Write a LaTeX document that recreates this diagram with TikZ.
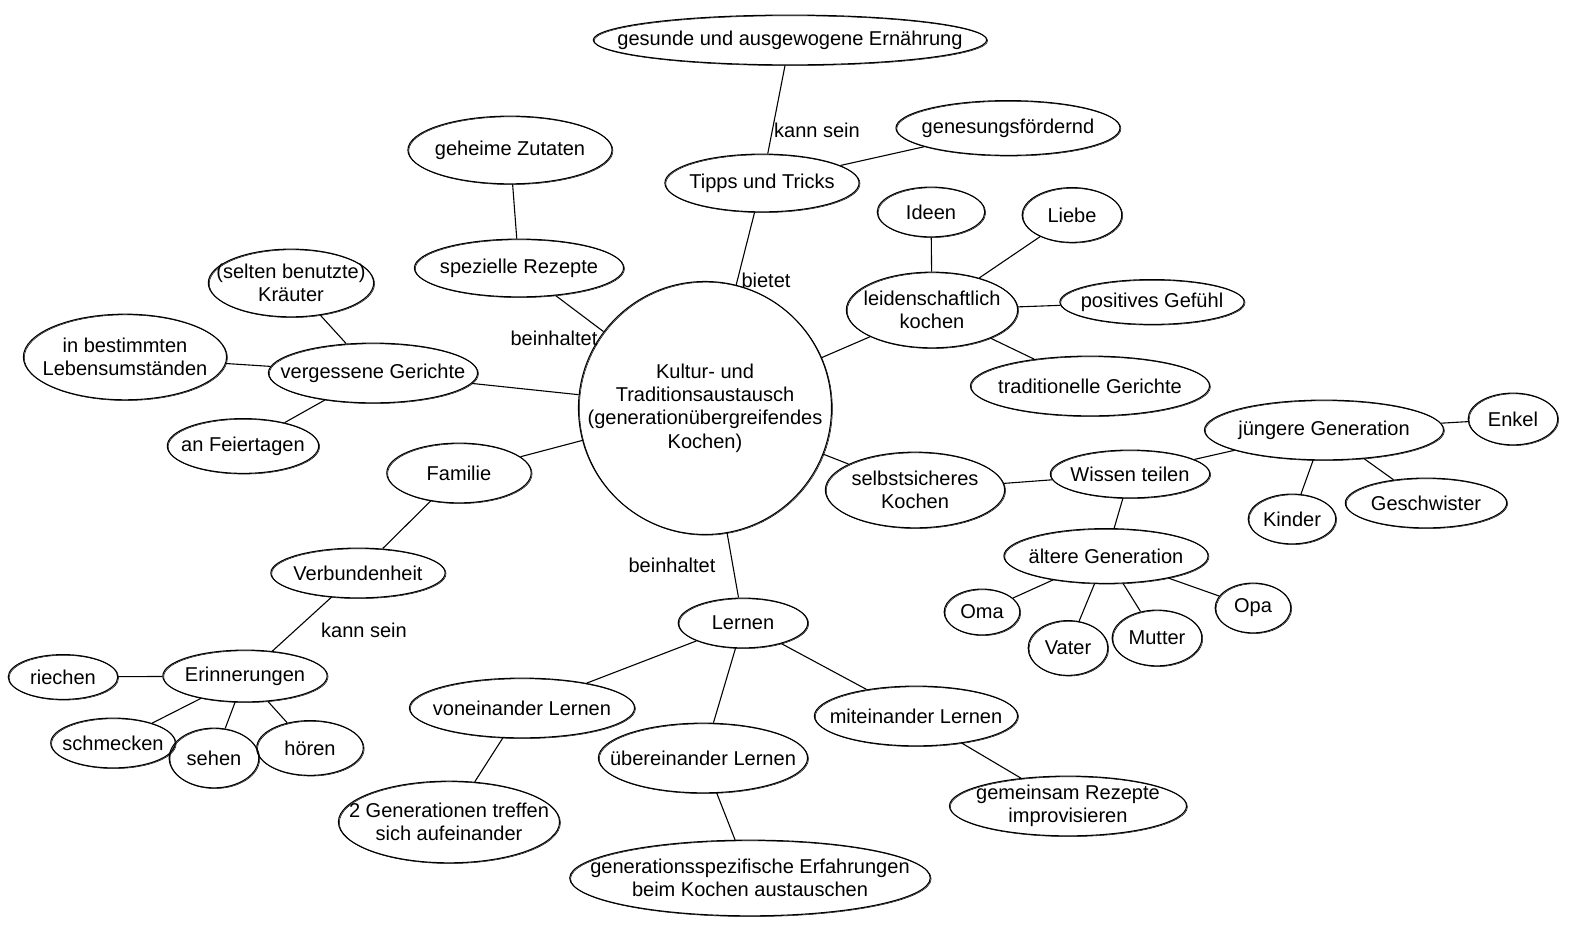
\documentclass[tikz,border=0pt]{standalone}
\usepackage{fontspec}
\setmainfont{Liberation Sans}
\usetikzlibrary{shapes.geometric}
\tikzset{
  bubble/.style={draw, ellipse, inner sep=0pt, line width=1.1pt,
    postaction={draw, line width=0.5pt, transform canvas={shift={(0.9pt,-0.7pt)}}}},
  txt/.style={label={[align=center, inner sep=0pt]center:#1}},
  edgelbl/.style={inner sep=1pt},
  link/.style={line width=1.1pt}
}
\begin{document}
\begin{tikzpicture}[x=1.004pt, y=-1.004pt, every label/.style={font=\fontsize{20.1}{23.5}\selectfont}, every node/.style={font=\fontsize{20.1}{23.5}\selectfont}]
  \useasboundingbox (0,0) rectangle (1574,928);
  % centre
  \node[bubble, circle, minimum size=254,
    txt={Kultur- und\\Traditionsaustausch\\(generationübergreifendes\\Kochen)}] (kultur) at (705,408) {};

  % top branch
  \node[bubble, minimum width=395, minimum height=50, txt={gesunde und ausgewogene Ernährung}] (gesund) at (790,40) {};
  \node[bubble, minimum width=195, minimum height=58, txt={Tipps und Tricks}] (tipps) at (762,183) {};
  \node[bubble, minimum width=225, minimum height=55, txt={genesungsfördernd}] (genesung) at (1008,128) {};
  \node[bubble, minimum width=205, minimum height=68, txt={geheime Zutaten}] (geheim) at (510,150) {};
  \node[bubble, minimum width=210, minimum height=58, txt={spezielle Rezepte}] (speziell) at (519,268) {};

  % right upper branch
  \node[bubble, minimum width=172, minimum height=76, txt={leidenschaftlich\\kochen}] (leiden) at (932,310) {};
  \node[bubble, minimum width=108, minimum height=50, txt={Ideen}] (ideen) at (931,212) {};
  \node[bubble, minimum width=100, minimum height=55, txt={Liebe}] (liebe) at (1072,215) {};
  \node[bubble, minimum width=185, minimum height=45, txt={positives Gefühl}] (gefuehl) at (1152,302) {};
  \node[bubble, minimum width=240, minimum height=60, txt={traditionelle Gerichte}] (tradi) at (1090,386) {};

  % left upper branch
  \node[bubble, minimum width=210, minimum height=60, txt={vergessene Gerichte}] (vergessen) at (373,373) {};
  \node[bubble, minimum width=166, minimum height=68, txt={(selten benutzte)\\Kräuter}] (kraeuter) at (291,283) {};
  \node[bubble, minimum width=204, minimum height=86, txt={in bestimmten\\Lebensumständen}] (umstand) at (125,357) {};
  \node[bubble, minimum width=152, minimum height=55, txt={an Feiertagen}] (feier) at (243,446) {};

  % left lower branch
  \node[bubble, minimum width=145, minimum height=60, txt={Familie}] (familie) at (459,473) {};
  \node[bubble, minimum width=175, minimum height=50, txt={Verbundenheit}] (verbund) at (358,573) {};
  \node[bubble, minimum width=165, minimum height=52, txt={Erinnerungen}] (erinner) at (245,676) {};
  \node[bubble, minimum width=110, minimum height=45, txt={riechen}] (riechen) at (63,677) {};
  \node[bubble, minimum width=125, minimum height=50, txt={schmecken}] (schmeck) at (113,743) {};
  \node[bubble, minimum width=90, minimum height=60, txt={sehen}] (sehen) at (214,758) {};
  \node[bubble, minimum width=107, minimum height=55, txt={hören}] (hoeren) at (310,748) {};

  % right lower branch
  \node[bubble, minimum width=180, minimum height=76, txt={selbstsicheres\\Kochen}] (selbst) at (915,490) {};
  \node[bubble, minimum width=160, minimum height=48, txt={Wissen teilen}] (wissen) at (1130,474) {};
  \node[bubble, minimum width=240, minimum height=60, txt={jüngere Generation}] (juenger) at (1324,430) {};
  \node[bubble, minimum width=90, minimum height=52, txt={Enkel}] (enkel) at (1513,419) {};
  \node[bubble, minimum width=88, minimum height=50, txt={Kinder}] (kinder) at (1292,519) {};
  \node[bubble, minimum width=162, minimum height=50, txt={Geschwister}] (geschw) at (1426,503) {};
  \node[bubble, minimum width=205, minimum height=55, txt={ältere Generation}] (aelter) at (1106,556) {};
  \node[bubble, minimum width=76, minimum height=46, txt={Oma}] (oma) at (982,612) {};
  \node[bubble, minimum width=80, minimum height=55, txt={Vater}] (vater) at (1068,648) {};
  \node[bubble, minimum width=90, minimum height=56, txt={Mutter}] (mutter) at (1157,638) {};
  \node[bubble, minimum width=76, minimum height=50, txt={Opa}] (opa) at (1253,608) {};

  % bottom branch
  \node[bubble, minimum width=130, minimum height=50, txt={Lernen}] (lernen) at (743,623) {};
  \node[bubble, minimum width=226, minimum height=60, txt={voneinander Lernen}] (von) at (522,708) {};
  \node[bubble, minimum width=210, minimum height=70, txt={übereinander Lernen}] (ueber) at (703,758) {};
  \node[bubble, minimum width=204, minimum height=60, txt={miteinander Lernen}] (mit) at (916,716) {};
  \node[bubble, minimum width=222, minimum height=82, txt={2 Generationen treffen\\sich aufeinander}] (treffen) at (449,822) {};
  \node[bubble, minimum width=362, minimum height=76, txt={generationsspezifische Erfahrungen\\beim Kochen austauschen}] (erfahr) at (750,878) {};
  \node[bubble, minimum width=238, minimum height=60, txt={gemeinsam Rezepte\\improvisieren}] (impro) at (1068,806) {};

  % edge labels
  \node[edgelbl] (lbl_kann1) at (817,130) {kann sein};
  \node[edgelbl] (lbl_bietet) at (766,280) {bietet};
  \node[edgelbl] (lbl_bein1) at (554,338) {beinhaltet};
  \node[edgelbl] (lbl_bein2) at (672,565) {beinhaltet};
  \node[edgelbl] (lbl_kann2) at (364,630) {kann sein};

  % connectors
  \draw[link] (gesund) -- (tipps);
  \draw[link] (tipps) -- (genesung);
  \draw[link] (tipps) -- (kultur);
  \draw[link] (geheim) -- (speziell);
  \draw[link] (speziell) -- (kultur);
  \draw[link] (kultur) -- (leiden);
  \draw[link] (leiden) -- (ideen);
  \draw[link] (leiden) -- (liebe);
  \draw[link] (leiden) -- (gefuehl);
  \draw[link] (leiden) -- (tradi);
  \draw[link] (kultur) -- (vergessen);
  \draw[link] (vergessen) -- (kraeuter);
  \draw[link] (vergessen) -- (umstand);
  \draw[link] (vergessen) -- (feier);
  \draw[link] (kultur) -- (familie);
  \draw[link] (familie) -- (verbund);
  \draw[link] (verbund) -- (erinner);
  \draw[link] (erinner) -- (riechen);
  \draw[link] (erinner) -- (schmeck);
  \draw[link] (erinner) -- (sehen);
  \draw[link] (erinner) -- (hoeren);
  \draw[link] (kultur) -- (selbst);
  \draw[link] (selbst) -- (wissen);
  \draw[link] (wissen) -- (juenger);
  \draw[link] (wissen) -- (aelter);
  \draw[link] (juenger) -- (enkel);
  \draw[link] (juenger) -- (kinder);
  \draw[link] (juenger) -- (geschw);
  \draw[link] (aelter) -- (oma);
  \draw[link] (aelter) -- (vater);
  \draw[link] (aelter) -- (mutter);
  \draw[link] (aelter) -- (opa);
  \draw[link] (kultur) -- (lernen);
  \draw[link] (lernen) -- (von);
  \draw[link] (lernen) -- (ueber);
  \draw[link] (lernen) -- (mit);
  \draw[link] (von) -- (treffen);
  \draw[link] (ueber) -- (erfahr);
  \draw[link] (mit) -- (impro);
\end{tikzpicture}
\end{document}
